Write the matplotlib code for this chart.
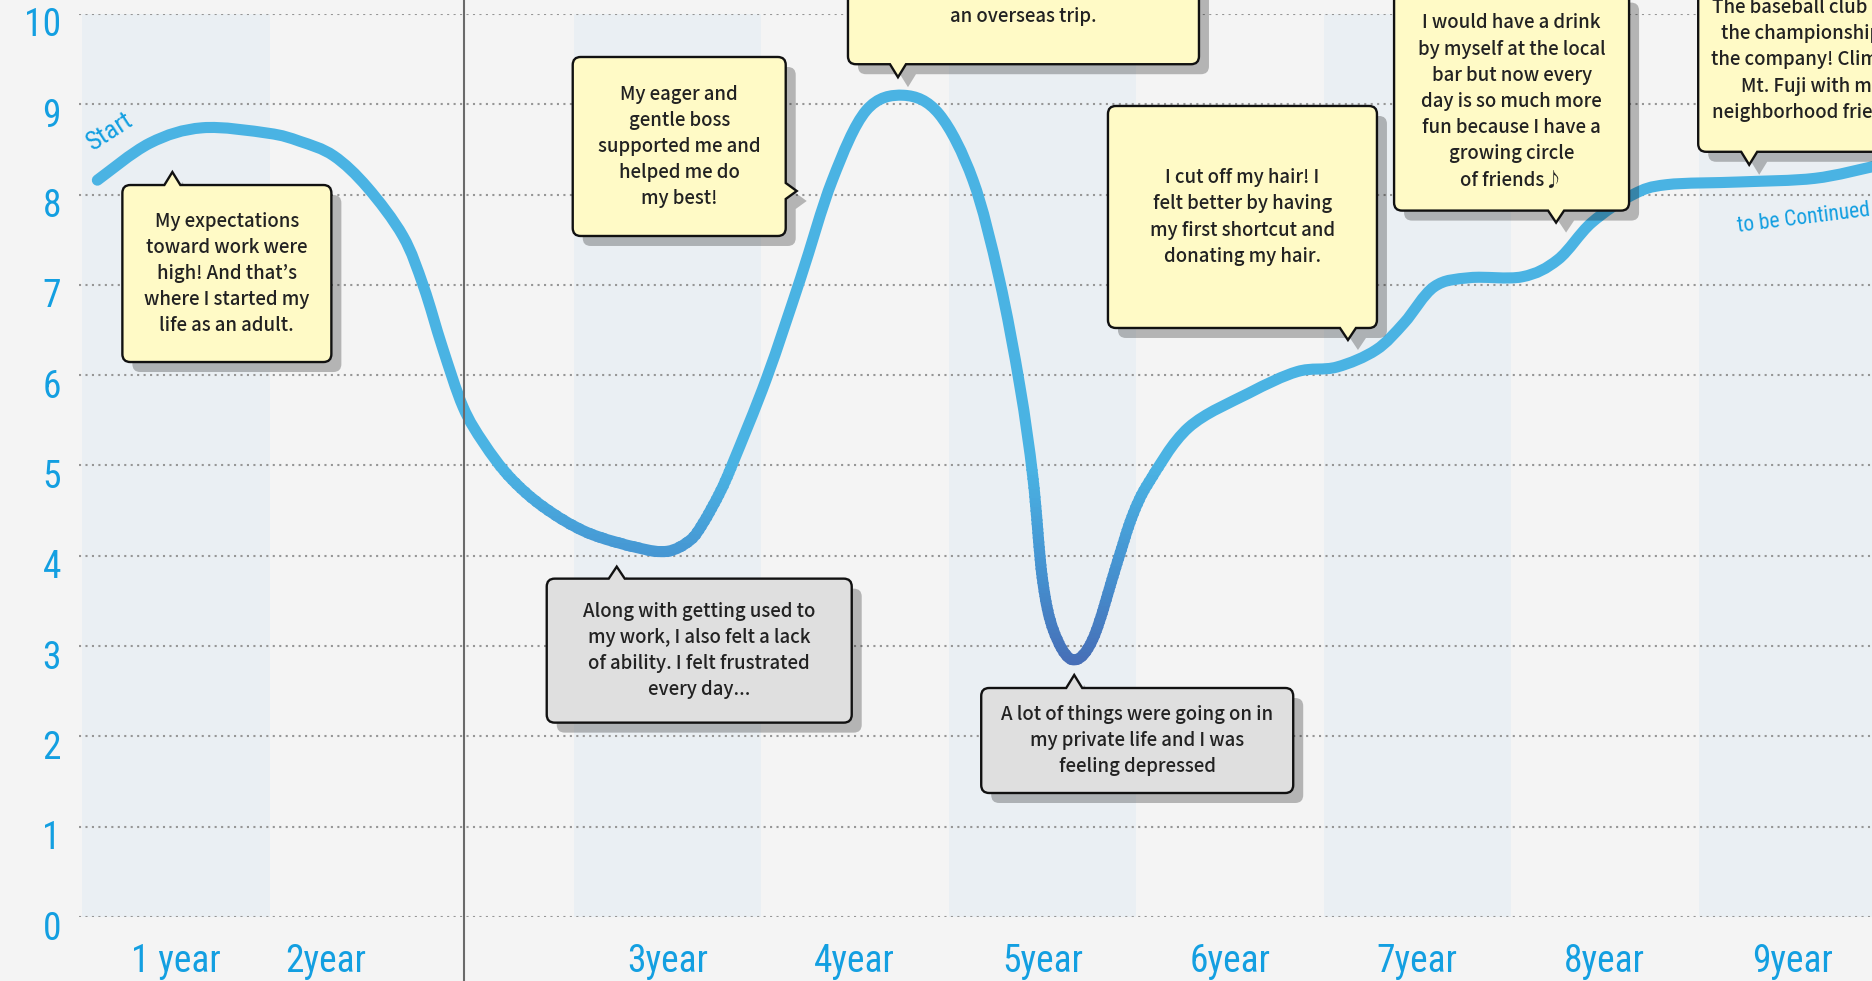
import numpy as np
import matplotlib
matplotlib.use("Agg")
import matplotlib.pyplot as plt
from matplotlib.path import Path
from matplotlib.patches import PathPatch, Rectangle
from matplotlib.transforms import IdentityTransform, ScaledTranslation
from matplotlib.colors import LinearSegmentedColormap
from matplotlib import font_manager

# ---- data ----
year_labels = ["1 year", "2year", "3year", "4year", "5year", "6year", "7year", "8year", "9year"]
year_pos = [0.38, 1.18, 3, 4, 5, 6, 7, 8, 9]
shaded_years = ["1 year", "3year", "5year", "7year", "9year"]
score_ticks = list(range(11))

curve_x = [-0.04, 0.24, 0.52, 0.87, 1.04, 1.22, 1.40, 1.59, 1.70, 1.80, 1.91, 2.02,
           2.16, 2.34, 2.57, 2.84, 3.00, 3.12, 3.19, 3.28, 3.35, 3.53, 3.71, 3.88,
           4.06, 4.26, 4.45, 4.63, 4.77, 4.88, 4.95, 5.00, 5.06, 5.16, 5.27, 5.40,
           5.48, 5.57, 5.78, 6.10, 6.36, 6.57, 6.78, 6.93, 7.09, 7.28, 7.56, 7.75,
           7.93, 8.15, 8.33, 8.72, 9.12, 9.43]
curve_y = [8.16, 8.57, 8.74, 8.68, 8.59, 8.43, 8.08, 7.54, 6.98, 6.31, 5.65, 5.25,
           4.87, 4.54, 4.26, 4.09, 4.05, 4.17, 4.36, 4.70, 5.03, 5.97, 7.07, 8.16,
           8.93, 9.10, 8.89, 8.16, 7.07, 5.88, 4.86, 3.75, 3.17, 2.85, 3.08, 3.93,
           4.44, 4.82, 5.42, 5.80, 6.04, 6.09, 6.28, 6.58, 6.98, 7.08, 7.09, 7.28,
           7.69, 8.00, 8.11, 8.14, 8.18, 8.31]

note_texts = [
    "My expectations\ntoward work were\nhigh! And that\u2019s\nwhere I started my\nlife as an adult.",
    "My eager and\ngentle boss\nsupported me and\nhelped me do\nmy best!",
    "I felt so refreshed during\nan overseas trip.",
    "Along with getting used to\nmy work, I also felt a lack\nof ability. I felt frustrated\nevery day...",
    "A lot of things were going on in\nmy private life and I was\nfeeling depressed",
    "I cut off my hair! I\nfelt better by having\nmy first shortcut and\ndonating my hair.",
    "I would have a drink\nby myself at the local\nbar but now every\nday is so much more\nfun because I have a\ngrowing circle\nof friends\u266a",
    "The baseball club won\nthe championship in\nthe company! Climbed\nMt. Fuji with my\nneighborhood friends.",
]
note_x = [0.36, 3.69, 4.23, 2.73, 5.17, 6.63, 7.74, 8.77]
note_y = [8.25, 8.04, 9.30, 3.88, 2.68, 6.39, 7.69, 8.33]
note_mood = ["good", "good", "good", "bad", "bad", "good", "good", "good"]

# ---- layout / style ----
W, H = 1872, 981
blue = "#139fe1"
bg = "#f4f4f4"
band_c = "#eaeff3"
box_c = {"good": "#fffac6", "bad": "#dfdfdf"}
# box edges relative to tail tip in px (left, top, right, bottom; y down) and tail side
note_box = [(-50, 13, 159, 190), (-224, -134, -11, 45), (-50, -134, 301, -13),
            (-70, 12, 235, 156), (-93, 13, 219, 118), (-240, -234, 29, -12),
            (-162, -230, 73, -12), (-51, -197, 175, -13)]
note_side = ["top", "right", "bottom", "top", "top", "bottom", "bottom", "bottom"]

names = {f.name for f in font_manager.fontManager.ttflist}
cond = next((n for n in ["Roboto Condensed", "Liberation Sans Narrow", "DejaVu Sans"] if n in names), "DejaVu Sans")
note_font = ["Noto Sans CJK JP", "DejaVu Sans"]

fig = plt.figure(figsize=(W / 100, H / 100), dpi=100, facecolor=bg)
ax = fig.add_axes([79 / W, 64 / H, (W - 79) / W, 903 / H])
ax.set_facecolor(bg)
ax.set_xlim(-0.138, 9.425)
ax.set_ylim(0, 10)
for s in ax.spines.values():
    s.set_visible(False)

for lab, p in zip(year_labels, year_pos):
    if lab in shaded_years:
        ax.axvspan(p - 0.5, p + 0.5, color=band_c, lw=0, zorder=0)

for v in score_ticks:
    ax.axhline(v, color="#969696", lw=1.5, ls=(0, (1, 2.1)), dash_capstyle="butt", zorder=1)

ax.axvline(1.915, ymin=-0.08, ymax=1.03, clip_on=False, color="#6a6a6a", lw=1.5, zorder=3.5)

ax.set_xticks(year_pos, year_labels)
ax.set_yticks(score_ticks, [str(v) for v in score_ticks])
ax.tick_params(length=0, colors=blue, labelsize=27)
ax.tick_params(axis="x", pad=19)
ax.tick_params(axis="y", pad=13)
for lab in ax.get_xticklabels() + ax.get_yticklabels():
    lab.set_family(cond)
    lab.set_stretch("condensed")
for lab in ax.get_yticklabels():
    lab.set_transform(lab.get_transform() + ScaledTranslation(0, -0.08, fig.dpi_scale_trans))

# smooth curve through the traced points (Catmull-Rom as cubic Bezier)
P = np.column_stack([curve_x, curve_y])
Pe = np.vstack([P[0], P, P[-1]])
verts = [tuple(P[0])]
codes = [Path.MOVETO]
for i in range(1, len(Pe) - 2):
    p0, p1, p2, p3 = Pe[i - 1], Pe[i], Pe[i + 1], Pe[i + 2]
    verts += [tuple(p1 + (p2 - p0) / 6), tuple(p2 - (p3 - p1) / 6), tuple(p2)]
    codes += [Path.CURVE4] * 3
curve = Path(verts, codes)

cmap = LinearSegmentedColormap.from_list("mood", ["#4767b1", "#4590cf", "#4ab3e3"])
lo_y, hi_y = 2.6, 5.0
edges = np.linspace(lo_y, hi_y, 49)
bands = [(-5, lo_y)] + list(zip(edges[:-1], edges[1:])) + [(hi_y, 20)]
for lo, hi in bands:
    mid = np.clip((lo + hi) / 2, lo_y, hi_y)
    pp = PathPatch(curve, fill=False, ec=cmap((mid - lo_y) / (hi_y - lo_y)), lw=8,
                   capstyle="round", joinstyle="round", zorder=3)
    ax.add_patch(pp)
    pp.set_clip_path(Rectangle((-5, lo - 0.01), 20, hi - lo + 0.02, transform=ax.transData))

ax.text(0.03, 8.70, "Start", rotation=33, color=blue, fontsize=19, family=cond,
        fontstretch="condensed", ha="center", va="center", zorder=6)
ax.text(9.06, 7.74, "to be Continued", rotation=7, color=blue, fontsize=15.5, family=cond,
        fontstretch="condensed", ha="center", va="center", zorder=6)


def bubble_path(tx, ty, box, side):
    L, T, R, B = tx + box[0], ty + box[1], tx + box[2], ty + box[3]
    r, w = 8, 8
    vs, cs = [], []

    def ln(p, c=Path.LINETO):
        vs.append(p)
        cs.append(c)

    def cv(c, p):
        vs.extend([c, p])
        cs.extend([Path.CURVE3, Path.CURVE3])

    ln((L + r, T), Path.MOVETO)
    if side == "top":
        ln((tx - w, T)); ln((tx, ty)); ln((tx + w, T))
    ln((R - r, T)); cv((R, T), (R, T + r))
    if side == "right":
        ln((R, ty - w)); ln((tx, ty)); ln((R, ty + w))
    ln((R, B - r)); cv((R, B), (R - r, B))
    if side == "bottom":
        ln((tx + w, B)); ln((tx, ty)); ln((tx - w, B))
    ln((L + r, B)); cv((L, B), (L, B - r))
    ln((L, T + r)); cv((L, T), (L + r, T))
    ln((L + r, T), Path.CLOSEPOLY)
    v = np.array(vs, dtype=float)
    v[:, 1] = H - v[:, 1]
    return v, cs, ((L + R) / 2, H - (T + B) / 2)


for txt, x, y, mood, box, side in zip(note_texts, note_x, note_y, note_mood, note_box, note_side):
    dx, dy = ax.transData.transform((x, y))
    v, cs, (cx, cy) = bubble_path(dx, H - dy, box, side)
    ax.add_patch(PathPatch(Path(v + [10, -10], cs), fc="black", alpha=0.26, lw=0,
                           transform=IdentityTransform(), clip_on=False, zorder=4))
    ax.add_patch(PathPatch(Path(v, cs), fc=box_c[mood], ec="#111111", lw=1.7,
                           transform=IdentityTransform(), clip_on=False, zorder=5))
    ax.text(cx, cy, txt, transform=IdentityTransform(), ha="center", va="center",
            multialignment="center", fontsize=13.4, family=note_font, weight="medium",
            color="#222222", linespacing=1.48, zorder=6)

fig.savefig("out.png", dpi=100, facecolor=bg)
